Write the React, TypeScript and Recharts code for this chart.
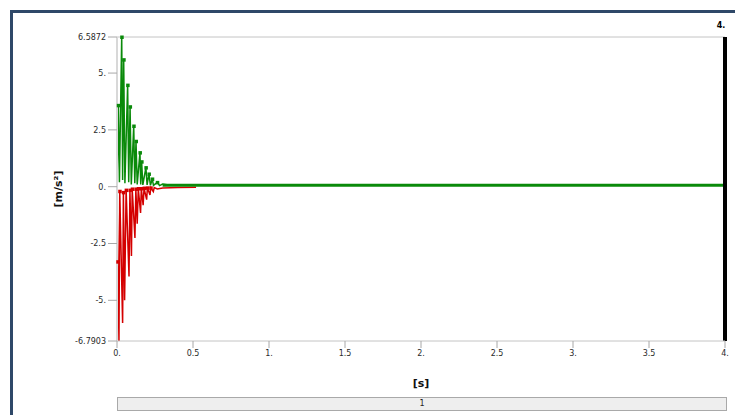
import { Line, LineChart, ReferenceLine, XAxis, YAxis } from "recharts";

// time history, max (green) and min (red) envelopes
const greenTimes = [
  0, 0.0086, 0.016, 0.031, 0.037, 0.044, 0.052, 0.07, 0.077, 0.086, 0.094, 0.11, 0.117, 0.125, 0.133,
  0.151, 0.156, 0.162, 0.17, 0.19, 0.198, 0.21, 0.22, 0.232, 0.24, 0.265, 0.28, 0.3, 0.35, 0.4,
];
const greenValues = [
  0, 3.58, 0.2, 6.5872, 0.3, 5.59, 0.15, 4.47, 0.2, 3.52, 0.1, 2.67, 0.15, 2.0, 0.1,
  1.5, 0.1, 1.1, 0.08, 0.84, 0.08, 0.56, 0.06, 0.34, 0.06, 0.19, 0.05, 0.12, 0.06, 0.07,
];
const greenTailTimes = [0.3, 4];
const greenTailValues = [0.06, 0.06];

const redTimes = [
  0, 0.005, 0.013, 0.018, 0.037, 0.042, 0.05, 0.06, 0.079, 0.085, 0.095, 0.1, 0.118, 0.124, 0.133,
  0.14, 0.155, 0.16, 0.172, 0.178, 0.195, 0.2, 0.217, 0.222, 0.239, 0.245, 0.265, 0.3, 0.4, 0.52,
];
const redValues = [
  0, -3.3, -6.7903, -0.2, -6.0, -0.25, -5.0, -0.15, -3.95, -0.15, -3.05, -0.1, -2.26, -0.1, -1.63,
  -0.08, -1.16, -0.08, -0.81, -0.06, -0.57, -0.05, -0.36, -0.05, -0.22, -0.04, -0.1, -0.06, -0.04, -0.03,
];

const xTicks = [0, 0.5, 1, 1.5, 2, 2.5, 3, 3.5, 4];
const xTickLabels = ["0.", "0.5", "1.", "1.5", "2.", "2.5", "3.", "3.5", "4."];
const yTicks = [-6.7903, -5, -2.5, 0, 2.5, 5, 6.5872];
const yTickLabels = ["-6.7903", "-5.", "-2.5", "0.", "2.5", "5.", "6.5872"];

const cursorTime = 4;
const stepLabel = "1";

const GREEN = "#0a8a0a";
const RED = "#d40000";
const tickStyle = { fontSize: 8, fill: "#2a2a2a", fontFamily: "DejaVu Sans" };

const toPoints = (ts: number[], vs: number[]) => ts.map((t, i) => ({ t, v: vs[i] }));

function peakDot(color: string, lastPeak: number) {
  return (props: any) => {
    const { cx, cy, index } = props;
    if (index % 2 === 0 || index > lastPeak || cx == null) return <g key={`d${index}`} />;
    return <rect key={`d${index}`} x={cx - 1.5} y={cy - 1.5} width={3.5} height={3.5} fill={color} />;
  };
}

export default function App() {
  const green = toPoints(greenTimes, greenValues);
  const greenTail = toPoints(greenTailTimes, greenTailValues);
  const red = toPoints(redTimes, redValues);

  return (
    <div style={{ position: "absolute", left: 0, top: 0, width: 735, height: 415, background: "#fff", overflow: "hidden" }}>
      <div
        style={{
          position: "absolute",
          left: 10,
          top: 10,
          width: 740,
          height: 420,
          border: "3px solid #2f4868",
          boxSizing: "border-box",
        }}
      />
      <div style={{ position: "absolute", left: 0, top: 0 }}>
        <LineChart width={735} height={415} margin={{ top: 37, right: 10, bottom: 26, left: 0 }}>
          <XAxis
            dataKey="t"
            type="number"
            domain={[0, 4]}
            ticks={xTicks}
            tickFormatter={(v: number) => xTickLabels[xTicks.indexOf(v)]}
            interval={0}
            height={48}
            tickSize={7}
            tick={tickStyle}
            axisLine={{ stroke: "#c4c4c4" }}
            tickLine={{ stroke: "#a8a8a8" }}
            label={{ value: "[s]", position: "insideBottom", offset: 2, style: { fontSize: 11, fontWeight: "bold", fill: "#111", fontFamily: "DejaVu Sans" } }}
          />
          <YAxis
            type="number"
            domain={[yTicks[0], yTicks[yTicks.length - 1]]}
            ticks={yTicks}
            tickFormatter={(v: number) => yTickLabels[yTicks.indexOf(v)]}
            interval={0}
            width={117}
            tickSize={9}
            tick={tickStyle}
            axisLine={{ stroke: "#d8d8d8", strokeWidth: 2 }}
            tickLine={{ stroke: "#a8a8a8" }}
            label={{ value: "[m/s²]", angle: -90, position: "insideLeft", offset: 58, style: { fontSize: 11, fontWeight: "bold", fill: "#111", fontFamily: "DejaVu Sans", textAnchor: "middle" } }}
          />
          <ReferenceLine y={yTicks[yTicks.length - 1]} stroke="#c4c4c4" />
          <Line data={red} dataKey="v" stroke={RED} strokeWidth={1.5} dot={peakDot(RED, 24)} isAnimationActive={false} />
          <Line data={greenTail} dataKey="v" stroke={GREEN} strokeWidth={3} dot={false} isAnimationActive={false} />
          <Line data={green} dataKey="v" stroke={GREEN} strokeWidth={1.5} dot={peakDot(GREEN, 25)} isAnimationActive={false} />
          <ReferenceLine
            x={cursorTime}
            stroke="#000"
            strokeWidth={4}
            ifOverflow="visible"
            label={{ value: "4.", position: "top", offset: 9, dx: -4, style: { fontSize: 8, fontWeight: "bold", fill: "#000", fontFamily: "DejaVu Sans" } }}
          />
        </LineChart>
      </div>
      <div
        style={{
          position: "absolute",
          left: 117,
          top: 397,
          width: 610,
          height: 14,
          background: "#eeeeee",
          border: "1px solid #a9a9a9",
          boxSizing: "border-box",
          fontFamily: "DejaVu Sans",
          fontSize: 8,
          lineHeight: "12px",
          textAlign: "center",
          color: "#222",
        }}
      >
        {stepLabel}
      </div>
    </div>
  );
}
